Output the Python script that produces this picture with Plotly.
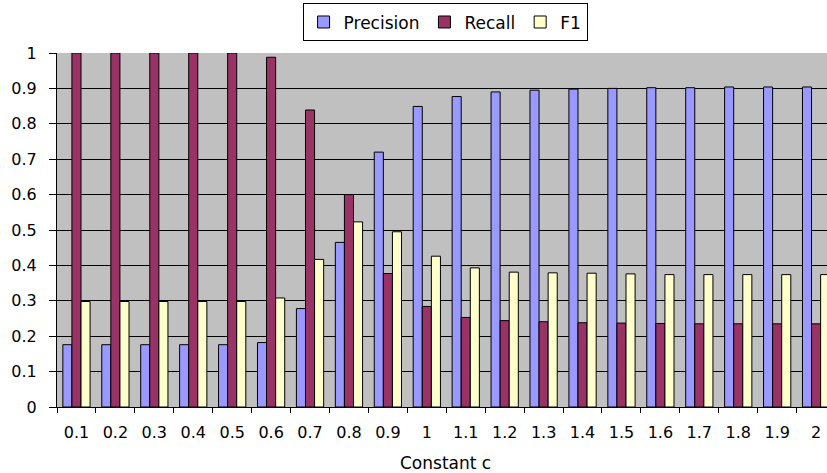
import plotly.graph_objects as go

categories = ["0.1", "0.2", "0.3", "0.4", "0.5", "0.6", "0.7", "0.8", "0.9", "1",
              "1.1", "1.2", "1.3", "1.4", "1.5", "1.6", "1.7", "1.8", "1.9", "2"]
precision = [0.176, 0.176, 0.176, 0.176, 0.176, 0.182, 0.278, 0.465, 0.720, 0.849,
             0.877, 0.890, 0.895, 0.898, 0.900, 0.902, 0.902, 0.904, 0.904, 0.904]
recall = [1.0, 1.0, 1.0, 1.0, 1.0, 0.988, 0.839, 0.600, 0.377, 0.284,
          0.253, 0.244, 0.241, 0.238, 0.237, 0.236, 0.235, 0.235, 0.235, 0.235]
f1 = [0.298, 0.298, 0.298, 0.298, 0.298, 0.308, 0.417, 0.523, 0.495, 0.426,
      0.393, 0.381, 0.379, 0.378, 0.376, 0.374, 0.374, 0.374, 0.374, 0.374]
y_ticks = [0, 0.1, 0.2, 0.3, 0.4, 0.5, 0.6, 0.7, 0.8, 0.9, 1]
y_tick_labels = ["0", "0.1", "0.2", "0.3", "0.4", "0.5", "0.6", "0.7", "0.8", "0.9", "1"]

FONT = "DejaVu Sans"

fig = go.Figure()
for name, vals, color in [("Precision", precision, "#9999FF"),
                          ("Recall", recall, "#993366"),
                          ("F1", f1, "#FFFFCC")]:
    fig.add_trace(go.Bar(x=categories, y=vals, name=name,
                         marker=dict(color=color, line=dict(color="black", width=1))))

fig.update_layout(
    width=827, height=473,
    margin=dict(l=57, r=0, t=53, b=66),
    paper_bgcolor="white", plot_bgcolor="#C0C0C0",
    barmode="group", bargap=0.3, bargroupgap=0,
    font=dict(family=FONT, size=16, color="black"),
    legend=dict(orientation="h", x=0.504, xanchor="center", y=1.14, yanchor="top",
                bgcolor="white", bordercolor="black", borderwidth=1,
                font=dict(family=FONT, size=17), itemwidth=30,
                tracegroupgap=0),
    xaxis=dict(type="category", range=[-0.5, 19.28], tickson="boundaries",
               ticks="outside", ticklen=5, tickcolor="black", showline=True,
               linecolor="black", linewidth=1, showgrid=False,
               ticklabelstandoff=11, tickfont=dict(family=FONT, size=16)),
    yaxis=dict(range=[0, 1], tickvals=y_ticks, ticktext=y_tick_labels,
               ticks="outside", ticklen=7, tickcolor="black", showline=True,
               linecolor="black", linewidth=1, showgrid=True, gridcolor="black",
               gridwidth=1, zeroline=False, ticklabelstandoff=9,
               tickfont=dict(family=FONT, size=16)),
    annotations=[dict(text="Constant c", xref="paper", yref="paper", x=0.505, y=-0.158,
                      xanchor="center", yanchor="middle", showarrow=False,
                      font=dict(family=FONT, size=17))],
    showlegend=True,
)

fig.write_html("out.html")
